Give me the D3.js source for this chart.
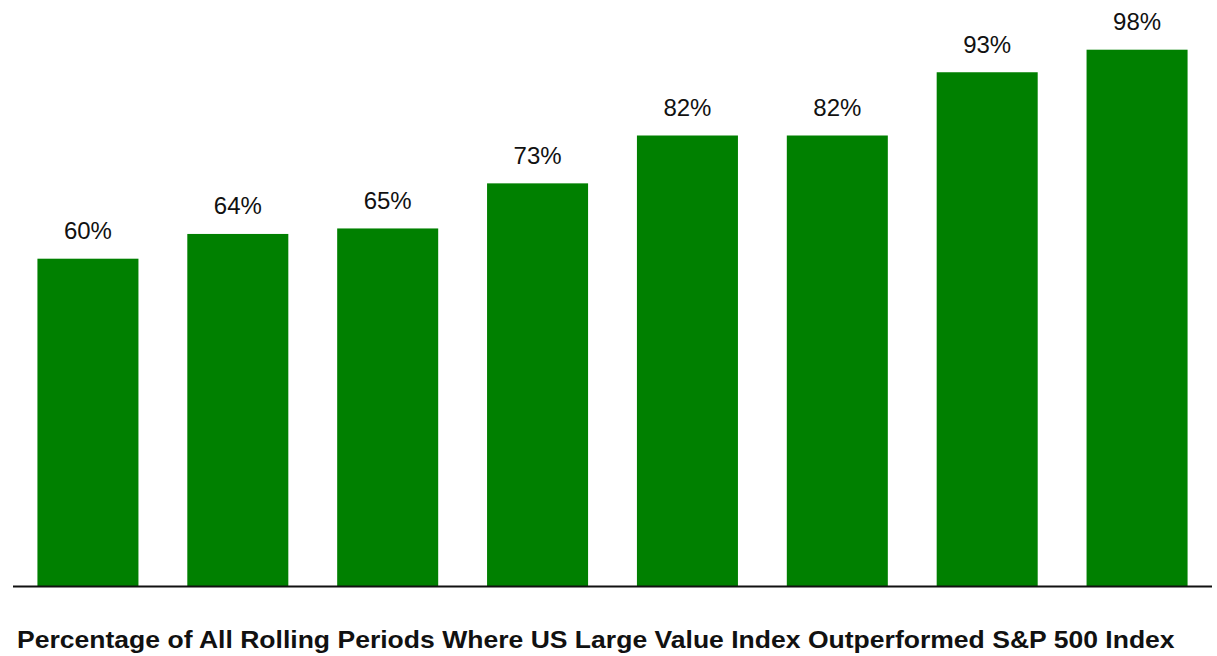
<!DOCTYPE html>
<html>
<head>
<meta charset="utf-8">
<script src="https://cdn.jsdelivr.net/npm/d3@7"></script>
<style>
  html, body { margin: 0; padding: 0; background: #fff; }
  svg { display: block; }
</style>
</head>
<body>
<svg id="chart" width="1217" height="656"></svg>
<script>
const categories = ["P1", "P2", "P3", "P4", "P5", "P6", "P7", "P8"];
const values = [59.6, 64.1, 65.1, 73.3, 82.0, 82.0, 93.5, 97.6];
const valueLabels = ["60%", "64%", "65%", "73%", "82%", "82%", "93%", "98%"];
const title = "Percentage of All Rolling Periods Where US Large Value Index Outperformed S&P 500 Index";

const svg = d3.select("#chart");
const left = 13, right = 1212, baseline = 586.5, top100 = 36.5;

const x = d3.scaleBand().domain(categories).range([left, right])
  .paddingInner(0.326).paddingOuter(0.163);
const y = d3.scaleLinear().domain([0, 100]).range([baseline, top100]);

svg.append("g").selectAll("rect").data(values).join("rect")
  .attr("x", (d, i) => x(categories[i]))
  .attr("width", x.bandwidth())
  .attr("y", d => y(d))
  .attr("height", d => baseline - y(d))
  .attr("fill", "#008000");

svg.append("g").selectAll("text").data(values).join("text")
  .attr("x", (d, i) => x(categories[i]) + x.bandwidth() / 2)
  .attr("y", d => y(d) - 19.5)
  .attr("text-anchor", "middle")
  .style("font-family", "'Liberation Sans', Arial, sans-serif")
  .attr("font-size", 24)
  .attr("fill", "#111")
  .text((d, i) => valueLabels[i]);

const axis = d3.axisBottom(x).tickSize(0).tickFormat("");
const ag = svg.append("g").attr("transform", `translate(0,${baseline})`).call(axis);
ag.select(".domain").attr("stroke", "#111").attr("stroke-width", 2)
  .attr("d", `M${left},0H${right}`);

const tg = svg.append("g").attr("transform", "translate(17,648)");
const tt = tg.append("text")
  .attr("x", 0)
  .attr("y", 0)
  .style("font-family", "'Liberation Sans', Arial, sans-serif")
  .attr("font-weight", "bold")
  .attr("font-size", 23)
  .attr("fill", "#111")
  .text(title);
const len = tt.node().getComputedTextLength();
tt.attr("transform", `scale(${1158 / len},1)`);
</script>
</body>
</html>
